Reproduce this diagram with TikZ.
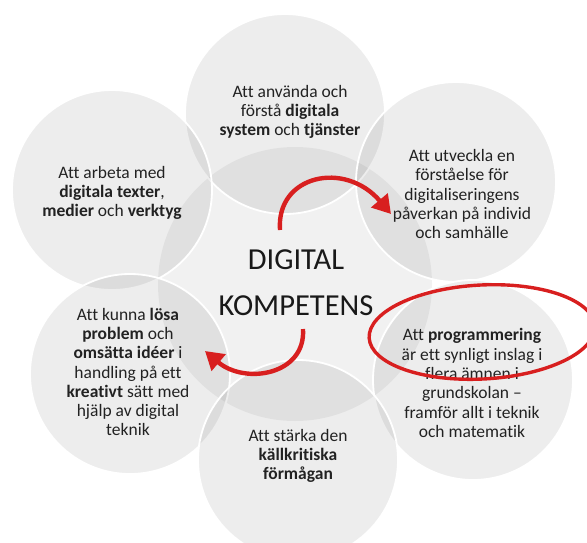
\documentclass[tikz,border=0pt]{standalone}
\usepackage{fontspec}
\setmainfont{Carlito}[Ligatures={TeX,NoCommon}]
\usetikzlibrary{arrows.meta}
\definecolor{txtgray}{HTML}{222222}
\definecolor{markred}{HTML}{D81F1F}
\tikzset{
  blob/.style={circle, minimum size=200pt, inner sep=0pt,
    fill=black, fill opacity=0.07, draw=white, line width=1.8pt},
  hub/.style={circle, minimum size=274pt, inner sep=0pt,
    fill=black, fill opacity=0.055},
  ringtext/.style={align=center, text=txtgray, inner sep=0pt,
    font=\fontsize{17.5}{19.3}\selectfont},
  bigword/.style={text=black!90, inner sep=0pt,
    font=\fontsize{30.5}{31}\selectfont},
  turn/.style={draw=markred, line width=4.4pt,
    -{Triangle[length=18pt, width=21pt]}}
}
\begin{document}
\begin{tikzpicture}[x=1pt, y=-1pt]
  \useasboundingbox (0,0) rectangle (587,542);
  \clip (0,0) rectangle (587,542);

  \node[hub] (hub) at (295,284) {};

  \node[blob] (top)       at (285,114) {};
  \node[blob] (upleft)    at (112,190) {};
  \node[blob] (upright)   at (456,182) {};
  \node[blob] (lowleft)   at (130,374) {};
  \node[blob] (lowright)  at (473,380) {};
  \node[blob] (bottom)    at (298,460) {};

  \node[ringtext] (top-text) at (290,112)
  {Att använda och\\
    förstå \textbf{digitala}\\
    \textbf{system} och \textbf{tjänster}};

  \node[ringtext] (upleft-text) at (112,193)
  {Att arbeta med\\
    \textbf{digitala texter},\\
    \textbf{medier} och \textbf{verktyg}};

  \node[ringtext] (upright-text) at (462,194)
  {Att utveckla en\\
    förståelse för\\
    digitaliseringens\\
    påverkan på individ\\
    och samhälle};

  \node[ringtext] (lowleft-text) at (128,372)
  {Att kunna \textbf{lösa}\\
    \textbf{problem} och\\
    \textbf{omsätta idéer} i\\
    handling på ett\\
    \textbf{kreativt} sätt med\\
    hjälp av digital\\
    teknik};

  \node[ringtext] (lowright-text) at (472,383)
  {Att \textbf{programmering}\\
    är ett synligt inslag i\\
    flera ämnen i\\
    grundskolan --\\
    framför allt i teknik\\
    och matematik};

  \node[ringtext] (bottom-text) at (298,456)
  {Att stärka den\\
    \textbf{källkritiska}\\
    \textbf{förmågan}};

  \node[bigword] (digital)   at (296,260) {DIGITAL};
  \node[bigword] (kompetens) at (296,306) {KOMPETENS};

  {
    \coordinate (upper-tail) at (280,230);
    \coordinate (upper-tip)  at (391,214);
    \draw[turn] (upper-tail) .. controls (276,175) and (345,160) .. (upper-tip);
  }

  {
    \coordinate (lower-tail) at (303,329);
    \coordinate (lower-tip)  at (205,351);
    \draw[turn] (lower-tail) .. controls (306,375) and (245,385) .. (lower-tip);
  }

  \draw[markred, line width=3.4pt, rotate around={3:(482,332)}]
    (482,332) ellipse (113 and 47);
\end{tikzpicture}
\end{document}
